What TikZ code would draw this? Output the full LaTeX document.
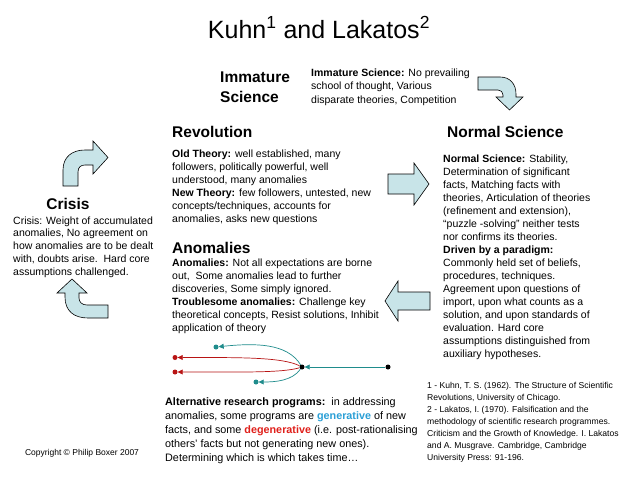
\documentclass[tikz,border=0pt]{standalone}
\usepackage{fontspec}
\setmainfont{Liberation Sans}
\usetikzlibrary{arrows.meta}

\definecolor{arrowfill}{HTML}{C8E4E8}
\definecolor{progteal}{HTML}{1F8C8C}
\definecolor{progred}{HTML}{B81414}
\definecolor{genblue}{HTML}{2A9FD6}
\definecolor{degred}{HTML}{E0201B}

\begin{document}
\begin{tikzpicture}[
    x=1pt, y=-1pt,
    heading/.style={font=\fontsize{15.5}{20}\selectfont\bfseries, inner sep=0pt},
    body/.style={font=\fontsize{10.5}{13}\selectfont, align=left,
                 inner sep=0pt, anchor=north west},
    blockarrow/.style={draw=black, fill=arrowfill, line width=0.6pt, line join=miter},
    progdot/.style={circle, fill=#1, inner sep=0pt, minimum size=5pt},
    prog/.style={-{Triangle[length=5pt, width=5pt]}, line width=0.7pt, draw=#1}
  ]

    % page
    \path[use as bounding box, fill=white] (0,0) rectangle (638,479);

    % Title
    \node[font=\fontsize{25}{30}\selectfont, anchor=base] (title) at (319, 38)
      {Kuhn\textsuperscript{1} and Lakatos\textsuperscript{2}};

    % Immature science
    \node[heading, align=left, anchor=north west] (immature) at (220, 71.7) {Immature\\Science};
    \node[body, font=\fontsize{10.5}{13.5}\selectfont] (immaturetext) at (311, 68.3) {
      \textbf{Immature Science:} No prevailing\\
      school of thought, Various\\
      disparate theories, Competition
    };

    % Revolution
    \node[heading, anchor=base west] (revolution) at (172, 137) {Revolution};
    \node[body] (revolutiontext) at (172, 149.3) {
      \textbf{Old Theory:} well established, many\\
      followers, politically powerful, well\\
      understood, many anomalies\\
      \textbf{New Theory:} few followers, untested, new\\
      concepts/techniques, accounts for\\
      anomalies, asks new questions
    };

    % Normal science
    \node[heading, anchor=base west] (normal) at (447, 137) {Normal Science};
    \node[body] (normaltext) at (443, 154.3) {
      \textbf{Normal Science:} Stability,\\
      Determination of significant\\
      facts, Matching facts with\\
      theories, Articulation of theories\\
      (refinement and extension),\\
      “puzzle -solving” neither tests\\
      nor confirms its theories.\\
      \textbf{Driven by a paradigm:}\\
      Commonly held set of beliefs,\\
      procedures, techniques.\\
      Agreement upon questions of\\
      import, upon what counts as a\\
      solution, and upon standards of\\
      evaluation. Hard core\\
      assumptions distinguished from\\
      auxiliary hypotheses.
    };

    % Crisis
    \node[heading, anchor=base] (crisis) at (68, 209) {Crisis};
    \node[body, font=\fontsize{10.5}{12.8}\selectfont] (crisistext) at (13, 216.3) {
      Crisis: Weight of accumulated\\
      anomalies, No agreement on\\
      how anomalies are to be dealt\\
      with, doubts arise.\ \ Hard core\\
      assumptions challenged.
    };

    % Anomalies
    \node[heading, anchor=base west] (anomalies) at (172, 253) {Anomalies};
    \node[body] (anomaliestext) at (172, 258.3) {
      \textbf{Anomalies:} Not all expectations are borne\\
      out,\ \ Some anomalies lead to further\\
      discoveries, Some simply ignored.\\
      \textbf{Troublesome anomalies:} Challenge key\\
      theoretical concepts, Resist solutions, Inhibit\\
      application of theory
    };

    % Cycle arrows
    \draw[blockarrow] (478,77) -- (500,77) .. controls (510,77) and (516,84) .. (516,94)
      -- (516,97) -- (523,97) -- (509.5,110) -- (496,97) -- (503,97) -- (503,95)
      .. controls (503,92) and (501,90) .. (498,90) -- (478,90) -- cycle;
    \draw[blockarrow] (388,174) -- (414,174) -- (414,163) -- (429,184) -- (414,205)
      -- (414,194) -- (388,194) -- cycle;
    \draw[blockarrow] (430,292) -- (398,292) -- (398,281) -- (385,301) -- (398,321)
      -- (398,310) -- (430,310) -- cycle;
    \draw[blockarrow] (108,318) -- (88,318) .. controls (74,318) and (65,311) .. (65,297)
      -- (65,293) -- (57,293) -- (72,279) -- (87,293) -- (79,293) -- (79,298)
      .. controls (79,302) and (82,305) .. (87,305) -- (108,305) -- cycle;
    \draw[blockarrow] (63,186) -- (63,170) .. controls (63,157) and (72,150) .. (85,150)
      -- (93,150) -- (93,141) -- (108,157.5) -- (93,174) -- (93,165) -- (85,165)
      .. controls (81,165) and (78,167) .. (78,172) -- (78,186) -- cycle;

    % Research programmes
    \node[progdot=black] (rightdot) at (388, 367) {};
    \node[progdot=black] (leftdot) at (302, 367) {};
    \node[progdot=progteal] (gentop) at (216, 347) {};
    \node[progdot=progred] (degtop) at (175, 357.5) {};
    \node[progdot=progred] (degbottom) at (175, 372) {};
    \node[progdot=progteal] (genbottom) at (256, 382) {};

    \draw[prog=progteal] (rightdot) -- (leftdot);
    \draw[prog=progteal] (leftdot) .. controls (287,343) and (255,343) .. (gentop);
    \draw[prog=progred] (leftdot) .. controls (282,357) and (240,357.5) .. (degtop);
    \draw[prog=progred] (leftdot) .. controls (282,373) and (240,372) .. (degbottom);
    \draw[prog=progteal] (leftdot) .. controls (292,381) and (275,382) .. (genbottom);

    \node[body, font=\fontsize{10.8}{14.2}\selectfont] (alttext) at (165, 397) {
      \textbf{Alternative research programs:}\ \ in addressing\\
      anomalies, some programs are \textcolor{genblue}{\textbf{generative}} of new\\
      facts, and some \textcolor{degred}{\textbf{degenerative}} (i.e. post-rationalising\\
      others’ facts but not generating new ones).\\
      Determining which is which takes time…
    };

    % References
    \node[body, font=\fontsize{8.6}{12}\selectfont] (refs) at (427, 382.5) {
      1 - Kuhn, T. S. (1962). The Structure of Scientific\\
      Revolutions, University of Chicago.\\
      2 - Lakatos, I. (1970). Falsification and the\\
      methodology of scientific research programmes.\\
      Criticism and the Growth of Knowledge. I. Lakatos\\
      and A. Musgrave. Cambridge, Cambridge\\
      University Press: 91-196.
    };

    % Copyright
    \node[font=\fontsize{8.5}{10}\selectfont, anchor=base] (copyright) at (82, 455)
      {Copyright © Philip Boxer 2007};

  \end{tikzpicture}
\end{document}
